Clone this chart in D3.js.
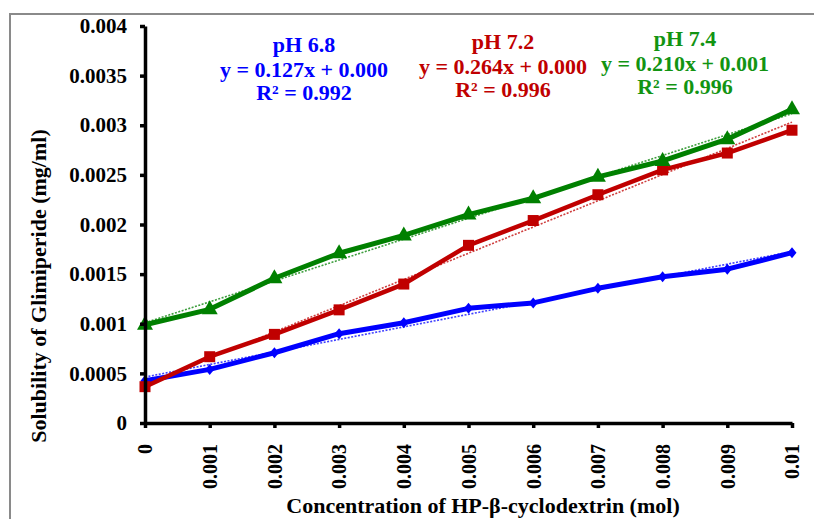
<!DOCTYPE html>
<html>
<head>
<meta charset="utf-8">
<script src="https://cdn.jsdelivr.net/npm/d3@7"></script>
<style>
  html, body { margin: 0; padding: 0; background: #fff; }
  svg { display: block; }
  text { font-family: "Liberation Serif", "Times New Roman", serif; font-weight: bold; }
</style>
</head>
<body>
<svg id="chart" width="814" height="519"></svg>
<script>
// ---- data ----
const xValues = [0, 0.001, 0.002, 0.003, 0.004, 0.005, 0.006, 0.007, 0.008, 0.009, 0.01];
const ph68 = [0.000426, 0.00054, 0.000708, 0.0009, 0.00101, 0.001155, 0.00121, 0.001357, 0.001474, 0.00155, 0.001716];
const ph72 = [0.000366, 0.000668, 0.000893, 0.00114, 0.0014, 0.00179, 0.00204, 0.0023, 0.00255, 0.00272, 0.00295];
const ph74 = [0.00099, 0.001145, 0.001458, 0.00171, 0.00189, 0.0021, 0.002264, 0.00248, 0.00264, 0.00286, 0.00316];
const seriesNames = ["pH 6.8", "pH 7.2", "pH 7.4"];
const equations = ["y = 0.127x + 0.000", "y = 0.264x + 0.000", "y = 0.210x + 0.001"];
const r2Labels = ["R² = 0.992", "R² = 0.996", "R² = 0.996"];
const yTicks = [0, 0.0005, 0.001, 0.0015, 0.002, 0.0025, 0.003, 0.0035, 0.004];
const yTickLabels = ["0", "0.0005", "0.001", "0.0015", "0.002", "0.0025", "0.003", "0.0035", "0.004"];
const xTickLabels = ["0", "0.001", "0.002", "0.003", "0.004", "0.005", "0.006", "0.007", "0.008", "0.009", "0.01"];
const yTitle = "Solubility of Glimiperide (mg/ml)";
const xTitle = "Concentration of HP-β-cyclodextrin (mol)";

// ---- styles ----
const lineColors = ["#0000FF", "#C00000", "#008000"];
const textColors = ["#0000FF", "#C00000", "#129412"];
const lineWidths = [5, 4.5, 5];

const svg = d3.select("#chart");

// outer chart frame
svg.append("rect")
  .attr("x", 10).attr("y", 14)
  .attr("width", 830).attr("height", 540)
  .attr("fill", "none").attr("stroke", "#8a8a8a").attr("stroke-width", 2);

const x = d3.scaleLinear().domain([0, 0.01]).range([145, 792]);
const y = d3.scaleLinear().domain([0, 0.004]).range([423, 26]);

// trend lines (least squares)
function fit(ys) {
  const n = xValues.length;
  const mx = d3.mean(xValues), my = d3.mean(ys);
  let sxy = 0, sxx = 0;
  for (let i = 0; i < n; i++) { sxy += (xValues[i]-mx)*(ys[i]-my); sxx += (xValues[i]-mx)**2; }
  const b = sxy / sxx, a = my - b*mx;
  return [a, b];
}
const allSeries = [ph68, ph72, ph74];
allSeries.forEach((ys, i) => {
  const [a, b] = fit(ys);
  svg.append("line")
    .attr("x1", x(0)).attr("y1", y(a))
    .attr("x2", x(0.01)).attr("y2", y(a + b*0.01))
    .attr("stroke", lineColors[i]).attr("stroke-width", 1.6)
    .attr("stroke-dasharray", "2,1.5").attr("opacity", 0.75);
});

// series lines
const lineGen = d3.line().x((d, i) => x(xValues[i])).y(d => y(d));
allSeries.forEach((ys, i) => {
  svg.append("path")
    .attr("d", lineGen(ys))
    .attr("fill", "none")
    .attr("stroke", lineColors[i])
    .attr("stroke-width", lineWidths[i])
    .attr("stroke-linejoin", "round");
});

// markers
const diamond = "M0,-5.5L4.5,0L0,5.5L-4.5,0Z";
const square = "M-5.5,-5.5L5.5,-5.5L5.5,5.5L-5.5,5.5Z";
const tri = "M0,-9L8,5L-8,5Z";
const shapes = [diamond, square, tri];
allSeries.forEach((ys, i) => {
  svg.append("g").selectAll("path")
    .data(ys).join("path")
    .attr("d", shapes[i])
    .attr("transform", (d, j) => `translate(${x(xValues[j])},${y(d)})`)
    .attr("fill", lineColors[i]);
});

// axes
const yAxis = d3.axisLeft(y).tickValues(yTicks)
  .tickFormat((d, i) => yTickLabels[i]).tickSize(5).tickSizeOuter(0).tickPadding(13);
const gy = svg.append("g").attr("transform", "translate(145,0)").call(yAxis);
gy.select(".domain").attr("stroke", "#000").attr("stroke-width", 3.5);
gy.selectAll(".tick line").attr("stroke", "#000").attr("stroke-width", 3.5);
gy.selectAll(".tick text").attr("font-size", 21).attr("fill", "#000")
  .attr("font-family", "Liberation Serif").attr("font-weight", "bold");

const xAxis = d3.axisBottom(x).tickValues(xValues)
  .tickFormat((d, i) => xTickLabels[i]).tickSize(5).tickSizeOuter(0);
const gx = svg.append("g").attr("transform", "translate(0,423)").call(xAxis);
gx.select(".domain").attr("stroke", "#000").attr("stroke-width", 3.5);
gx.selectAll(".tick line").attr("stroke", "#000").attr("stroke-width", 3.5);
gx.selectAll(".tick text")
  .attr("font-size", 20).attr("fill", "#000")
  .attr("font-family", "Liberation Serif").attr("font-weight", "bold")
  .attr("text-anchor", "end")
  .attr("transform", "rotate(-90)")
  .attr("x", -21).attr("y", 0).attr("dy", "0.34em");

// axis titles
svg.append("text")
  .attr("transform", "translate(46,286) rotate(-90)")
  .attr("text-anchor", "middle")
  .attr("font-size", 22).attr("fill", "#000")
  .text(yTitle);
svg.append("text")
  .attr("x", 483).attr("y", 513)
  .attr("text-anchor", "middle")
  .attr("font-size", 22).attr("fill", "#000")
  .text(xTitle);

// equation annotations
const annX = [304, 503, 685];
const annY = [52, 49, 46];
allSeries.forEach((ys, i) => {
  const g = svg.append("g").attr("fill", textColors[i]).attr("font-size", 22).attr("text-anchor", "middle");
  g.append("text").attr("x", annX[i]).attr("y", annY[i]).text(seriesNames[i]);
  g.append("text").attr("x", annX[i]).attr("y", annY[i] + 25).text(equations[i]);
  g.append("text").attr("x", annX[i]).attr("y", annY[i] + 48).text(r2Labels[i]);
});
</script>
</body>
</html>
